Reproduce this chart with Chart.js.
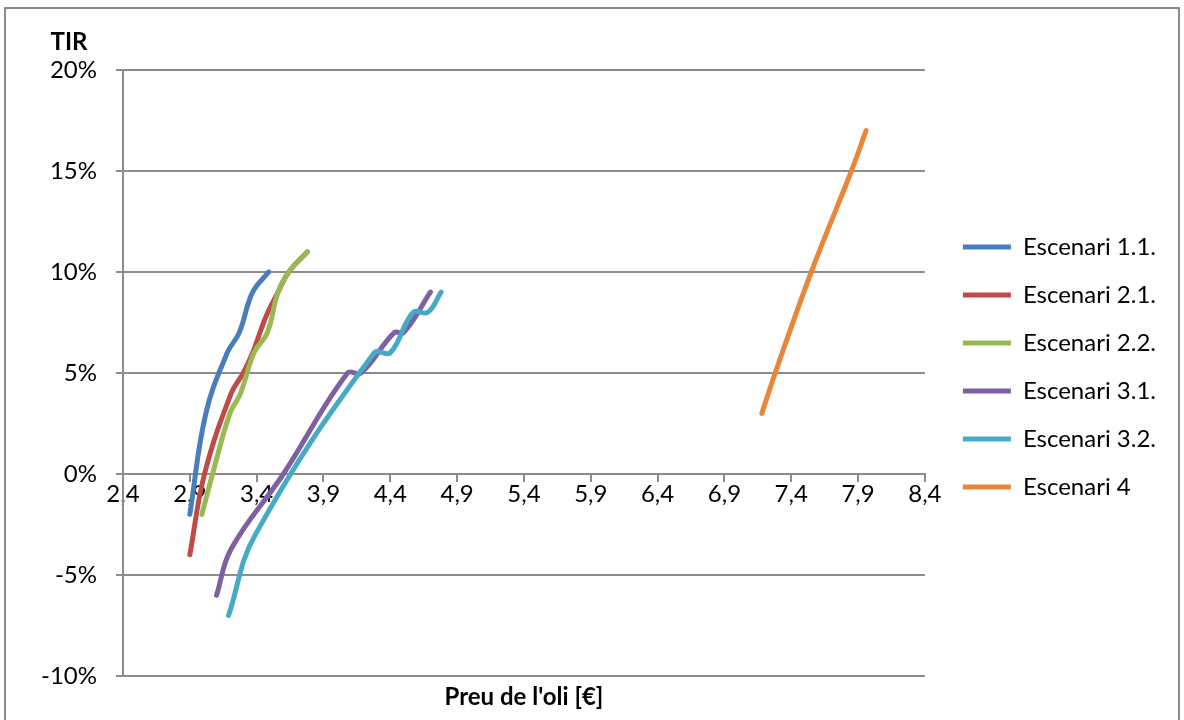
<!DOCTYPE html>
<html>
<head>
<meta charset="utf-8">
<script src="https://cdn.jsdelivr.net/npm/chart.js@4.4.1/dist/chart.umd.min.js"></script>
<style>
  html, body { margin: 0; padding: 0; background: #fff; }
</style>
</head>
<body>
<canvas id="tirChart" width="1184" height="720"></canvas>
<script>
// series names and colours (Excel 2010 default palette)
const seriesNames = ['Escenari 1.1.', 'Escenari 2.1.', 'Escenari 2.2.', 'Escenari 3.1.', 'Escenari 3.2.', 'Escenari 4'];
const seriesColors = ['#4a7ebb', '#be4b48', '#98b954', '#7d60a0', '#46aac5', '#e8873a'];

// price of oil [€] vs TIR [%]
const esc11Price = [2.90, 3.02, 3.18, 3.27, 3.37, 3.49];
const esc11Tir   = [-2, 3, 6, 7, 9, 10];
const esc21Price = [2.90, 3.01, 3.21, 3.30, 3.37, 3.47, 3.56, 3.64, 3.78];
const esc21Tir   = [-4, 0, 4, 5, 6, 7.8, 9, 10, 11];
const esc22Price = [2.99, 3.07, 3.20, 3.28, 3.38, 3.48, 3.56, 3.64, 3.78];
const esc22Tir   = [-2, 0, 3, 4, 6, 7, 9, 10, 11];
const esc31Price = [3.10, 3.21, 3.60, 4.08, 4.18, 4.43, 4.50, 4.70];
const esc31Tir   = [-6, -3.7, 0, 5, 5, 7, 7, 9];
const esc32Price = [3.19, 3.39, 4.28, 4.40, 4.57, 4.68, 4.78];
const esc32Tir   = [-7, -3, 6, 6, 8, 8, 9];
const esc4Price  = [7.18, 7.28, 7.55, 7.85, 7.96];
const esc4Tir    = [3, 5, 10, 15, 17];

const xTicks = [2.4, 2.9, 3.4, 3.9, 4.4, 4.9, 5.4, 5.9, 6.4, 6.9, 7.4, 7.9, 8.4];
const yTicks = [-10, -5, 0, 5, 10, 15, 20];
const yTitle = 'TIR';
const xTitle = "Preu de l'oli [€]";

const FONT = 'Lato';
const GRID = '#8c8c8c';

const allPrices = [esc11Price, esc21Price, esc22Price, esc31Price, esc32Price, esc4Price];
const allTirs = [esc11Tir, esc21Tir, esc22Tir, esc31Tir, esc32Tir, esc4Tir];

const datasets = seriesNames.map((name, i) => ({
  label: name,
  data: allPrices[i].map((p, j) => ({ x: p, y: allTirs[i][j] })),
  borderColor: seriesColors[i],
  backgroundColor: seriesColors[i],
  borderWidth: 5,
  borderCapStyle: 'round',
  borderJoinStyle: 'round',
  pointRadius: 0,
  tension: 0.4,
  order: seriesNames.length - i   // later series drawn on top, like Excel
}));

const chartTexts = {
  id: 'chartTexts',
  afterLayout(chart) {
    // legend sits a little away from the plot and slightly above centre
    const lg = chart.legend;
    lg.left += 14; lg.right += 14;
    lg.top -= 6; lg.bottom -= 6;
  },
  beforeDraw(chart) {
    const ctx = chart.ctx;
    ctx.save();
    ctx.strokeStyle = '#8a8a8a';
    ctx.lineWidth = 2;
    ctx.strokeRect(5, 8, 1174, 730);
    ctx.restore();
  },
  afterDraw(chart) {
    const { ctx, chartArea } = chart;
    ctx.save();
    ctx.fillStyle = '#000';
    ctx.font = 'bold 24px ' + FONT;
    ctx.textAlign = 'center';
    ctx.textBaseline = 'middle';
    ctx.fillText(yTitle, chartArea.left - 54, chartArea.top - 28);
    ctx.fillText(xTitle, (chartArea.left + chartArea.right) / 2, chartArea.bottom + 21);
    ctx.restore();
  }
};

new Chart(document.getElementById('tirChart').getContext('2d'), {
  type: 'line',
  data: { datasets: datasets },
  options: {
    responsive: false,
    animation: false,
    devicePixelRatio: 1,
    layout: { padding: { left: 0, top: 70, right: 32, bottom: 44 } },
    plugins: {
      tooltip: { enabled: false },
      legend: {
        position: 'right',
        labels: {
          usePointStyle: true,
          pointStyle: 'line',
          pointStyleWidth: 48,
          padding: 24,
          color: '#000',
          font: { family: FONT, size: 24 },
          sort: (a, b) => a.datasetIndex - b.datasetIndex
        }
      }
    },
    scales: {
      x: {
        type: 'linear',
        position: { y: 0 },
        min: 2.4,
        max: 8.4,
        afterBuildTicks: (s) => { s.ticks = xTicks.map(v => ({ value: v })); },
        grid: { drawOnChartArea: false, color: GRID, lineWidth: 2, tickLength: 7 },
        border: { color: GRID, width: 2 },
        ticks: {
          padding: 0,
          color: '#000',
          maxRotation: 0,
          autoSkip: false,
          font: { family: FONT, size: 24, lineHeight: 1.1 },
          callback: (v) => Number(v).toFixed(1).replace('.', ',')
        }
      },
      y: {
        type: 'linear',
        min: -10,
        max: 20,
        afterBuildTicks: (s) => { s.ticks = yTicks.map(v => ({ value: v })); },
        afterFit: (s) => { s.width = 123; },
        grid: { color: GRID, lineWidth: 2, tickLength: 7 },
        border: { color: GRID, width: 2 },
        ticks: {
          padding: 19,
          color: '#000',
          font: { family: FONT, size: 24 },
          callback: (v) => v + '%'
        }
      }
    }
  },
  plugins: [chartTexts]
});
</script>
</body>
</html>
